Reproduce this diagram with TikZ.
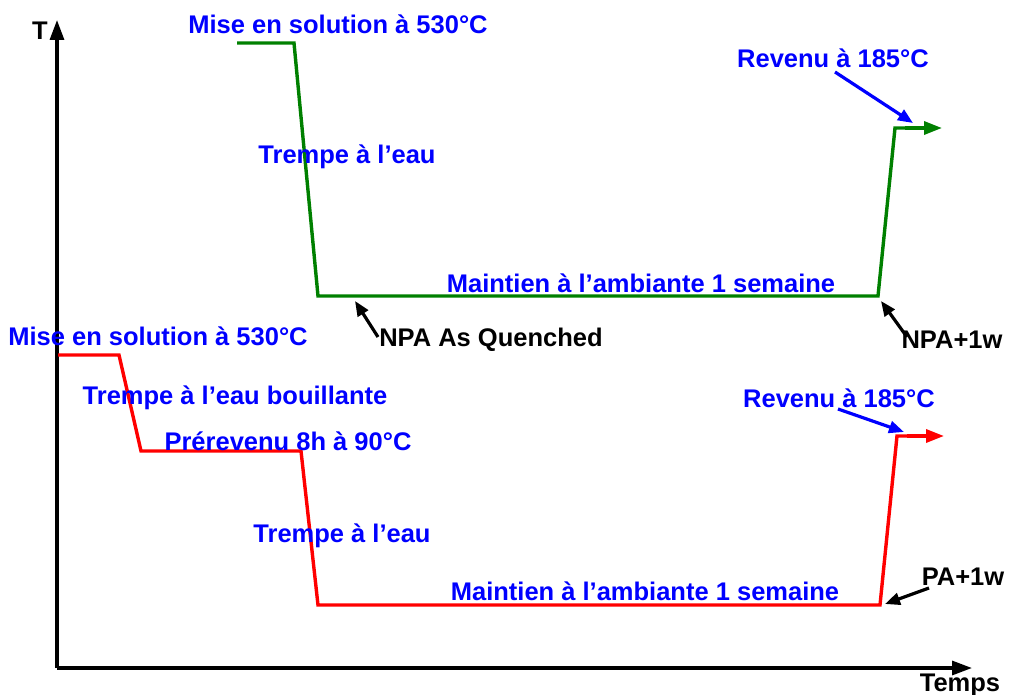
\documentclass[tikz,border=0pt]{standalone}
\usepackage{fontspec}
\setmainfont{Liberation Sans}
\usepackage{tikz}
\usetikzlibrary{positioning,arrows.meta,calc}

\begin{document}
\begin{tikzpicture}[x=1pt, y=-1pt,
    lbl/.style={font=\fontsize{25.5}{28}\selectfont\bfseries, text=blue, inner sep=1pt},
    tag/.style={font=\fontsize{25.5}{28}\selectfont\bfseries, text=black, inner sep=1pt},
    cycle1/.style={line width=3.4pt, green!50!black},
    cycle2/.style={line width=3.4pt, red},
    axis/.style={->, line width=3.2pt, >={Triangle[length=20pt,width=14pt]}},
    endtip/.style={->, >={Triangle[length=18pt,width=13pt]}},
    pointer/.style={->, line width=3.2pt, >={Triangle[length=15pt,width=12pt]}}]
    \useasboundingbox (0,0) rectangle (1010,695);

    % Axes
    \coordinate (O) at (57,668);
    \coordinate (Tend) at (57,20);
    \coordinate (tend) at (972,668);
    \draw[axis] (O) -- (Tend);
    \draw[axis] (O) -- (tend);
    \node[tag] (Tlbl) at (40,31) {T};
    \node[tag] (templbl) at (960,685) {Temps};

    % Cycle without pre-ageing (green)
    \coordinate (g1) at (237,43);
    \coordinate (g2) at (294,43);
    \coordinate (g3) at (318,296);
    \coordinate (g4) at (878,296);
    \coordinate (g5) at (895,128);
    \coordinate (g6) at (942,128);
    \draw[cycle1, line join=miter] (g1) -- (g2) -- (g3) -- (g4) -- (g5) -- (915,128);
    \draw[cycle1, endtip] (905,128) -- (g6);

    \node[lbl] (gsol) at (338,24) {Mise en solution à 530°C};
    \node[lbl] (gtrempe) at (347,157) {Trempe à l’eau};
    \node[lbl] (gmaint) at (641,283) {Maintien à l’ambiante 1 semaine};
    \node[lbl] (grev) at (833,58) {Revenu à 185°C};
    \coordinate (grevfoot) at (835,72);
    \coordinate (grevtip) at (913,123);
    \draw[pointer, blue] (grevfoot) -- (grevtip);

    \node[tag] (npaq) at (491,340) {NPA As Quenched};
    \node[tag] (npa1w) at (952,340) {NPA+1w};
    \coordinate (npaqfoot) at (378,337);
    \coordinate (npaqtip) at (355,301);
    \coordinate (npa1wfoot) at (907,337);
    \coordinate (npa1wtip) at (881,301);
    \draw[pointer] (npaqfoot) -- (npaqtip);
    \draw[pointer] (npa1wfoot) -- (npa1wtip);

    % Cycle with pre-ageing (red)
    \coordinate (r1) at (58,355);
    \coordinate (r2) at (119,355);
    \coordinate (r3) at (141,451);
    \coordinate (r4) at (301,451);
    \coordinate (r5) at (318,605);
    \coordinate (r6) at (880,605);
    \coordinate (r7) at (897,436);
    \coordinate (r8) at (944,436);
    \draw[cycle2, line join=miter] (r1) -- (r2) -- (r3) -- (r4) -- (r5) -- (r6) -- (r7) -- (917,436);
    \draw[cycle2, endtip] (907,436) -- (r8);

    \node[lbl] (rsol) at (158,336) {Mise en solution à 530°C};
    \node[lbl] (rbouil) at (235,398) {Trempe à l’eau bouillante};
    \node[lbl] (rpre) at (288,441) {Prérevenu 8h à 90°C};
    \node[lbl] (rtrempe) at (342,536) {Trempe à l’eau};
    \node[lbl] (rmaint) at (645,591) {Maintien à l’ambiante 1 semaine};
    \node[lbl] (rrev) at (839,398) {Revenu à 185°C};
    \coordinate (rrevfoot) at (838,409);
    \coordinate (rrevtip) at (904,432);
    \draw[pointer, blue] (rrevfoot) -- (rrevtip);

    \node[tag] (pa1w) at (963,577) {PA+1w};
    \coordinate (pa1wfoot) at (929,588);
    \coordinate (pa1wtip) at (885,604);
    \draw[pointer] (pa1wfoot) -- (pa1wtip);
\end{tikzpicture}
\end{document}
